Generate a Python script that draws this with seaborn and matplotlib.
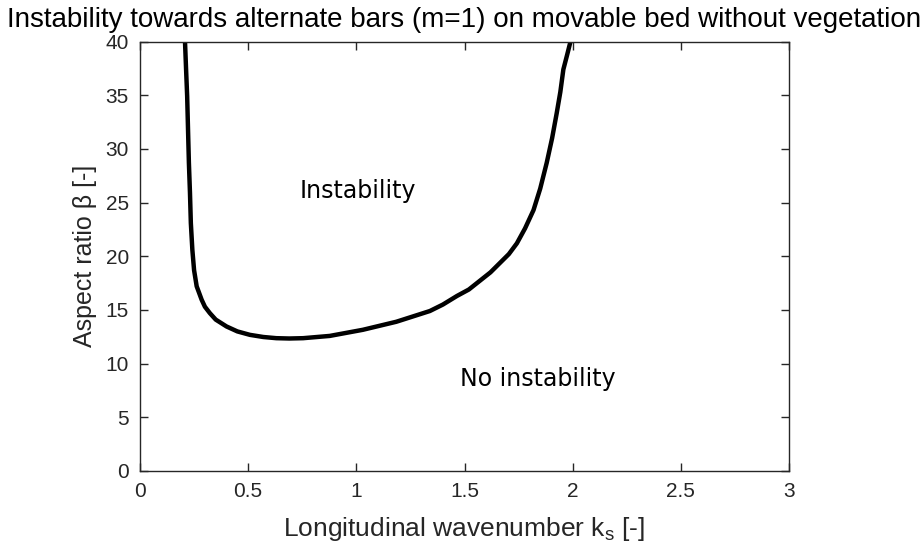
import matplotlib
matplotlib.use("Agg")
import matplotlib.pyplot as plt
import seaborn as sns
import pandas as pd

# Data (marginal stability curve)
k_s = [0.208, 0.213, 0.218, 0.222, 0.226, 0.231, 0.235, 0.242, 0.250, 0.262, 0.285,
       0.300, 0.323, 0.350, 0.400, 0.450, 0.508, 0.570, 0.630, 0.690, 0.754,
       0.877, 1.030, 1.185, 1.340, 1.400, 1.465, 1.520, 1.570, 1.620, 1.665,
       1.705, 1.742, 1.780, 1.819, 1.850, 1.880, 1.905, 1.926, 1.943, 1.957,
       1.975, 1.990]
beta = [40.0, 37.4, 34.9, 31.8, 28.7, 25.9, 23.1, 20.6, 18.7, 17.2, 15.95,
        15.3, 14.7, 14.1, 13.46, 13.0, 12.68, 12.48, 12.37, 12.34, 12.37,
        12.58, 13.15, 13.9, 14.9, 15.5, 16.3, 16.9, 17.7, 18.5, 19.4,
        20.2, 21.2, 22.6, 24.3, 26.3, 28.7, 31.0, 33.3, 35.3, 37.4,
        38.8, 40.0]
x_ticks = [0, 0.5, 1, 1.5, 2, 2.5, 3]
x_tick_labels = ["0", "0.5", "1", "1.5", "2", "2.5", "3"]
y_ticks = [0, 5, 10, 15, 20, 25, 30, 35, 40]
y_tick_labels = ["0", "5", "10", "15", "20", "25", "30", "35", "40"]

df = pd.DataFrame({"k": k_s, "beta": beta})

sns.set_theme(style="white")
plt.rcParams["font.family"] = ["Liberation Sans", "DejaVu Sans"]

fig = plt.figure(figsize=(9.23, 5.55), dpi=100)
ax = fig.add_axes([140/923, (555-471)/555, (789-140)/923, (471-41.5)/555])

sns.lineplot(data=df, x="k", y="beta", sort=False, estimator=None,
             color="black", linewidth=3.2, ax=ax)

ax.set_xlim(0, 3)
ax.set_ylim(0, 40)
ax.set_xticks(x_ticks)
ax.set_xticklabels(x_tick_labels)
ax.set_yticks(y_ticks)
ax.set_yticklabels(y_tick_labels)

spine_col = "#262626"
for sp in ax.spines.values():
    sp.set_visible(True)
    sp.set_color(spine_col)
    sp.set_linewidth(1.0)
ax.tick_params(axis="both", which="both", direction="in", length=6, width=1.0,
               color=spine_col, top=True, right=True, bottom=True, left=True,
               labelsize=15, labelcolor="#262626", pad=8)

ax.set_xlabel("Longitudinal wavenumber k$_\\mathregular{s}$ [-]", fontsize=19, color="#262626", labelpad=10)
ax.set_ylabel("Aspect ratio β [-]", fontsize=18, color="#262626", labelpad=6)

fig.text(464/923, 1 - 27/555, "Instability towards alternate bars (m=1) on movable bed without vegetation",
         ha="center", va="baseline", fontsize=20, color="black")

ax.text(0.74, 25.4, "Instability", fontsize=17, family="DejaVu Sans", color="black",
        ha="left", va="baseline")
ax.text(1.48, 7.9, "No instability", fontsize=17, family="DejaVu Sans", color="black",
        ha="left", va="baseline")

fig.savefig("out.png", dpi=100)
